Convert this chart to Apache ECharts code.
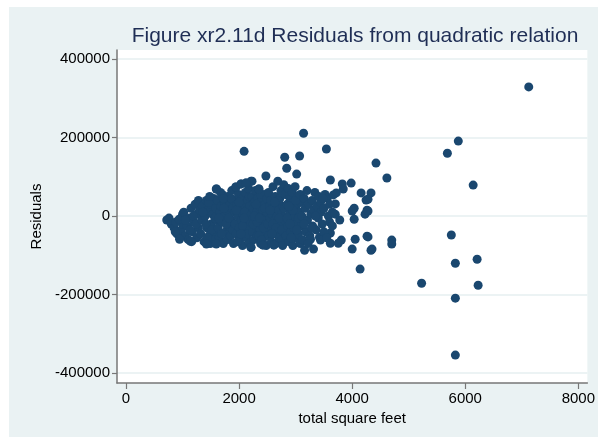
<!DOCTYPE html>
<html>
<head>
    <meta content="text/html; charset=UTF-8" http-equiv="Content-Type">
    <title>Residuals from quadratic relation</title>
    <style>
        html, body {
            height: 100%;
            width: 100%;
            margin: 0;
            padding: 0;
            background: #ffffff;
        }
        #main {
            position: absolute;
            left: 9px;
            top: 7px;
            width: 589px;
            height: 430px;
        }
    </style>
    <script src="https://cdn.jsdelivr.net/npm/echarts@6/dist/echarts.min.js"></script>
</head>
<body>
<div id="main"></div>

<script type="text/javascript">
    // tick labels
    var xTicks = [0, 2000, 4000, 6000, 8000];
    var yTicks = [-400000, -200000, 0, 200000, 400000];

    // total square feet (x) and residual (y)
    var sqft = [
        720, 760, 800, 850, 880, 900, 950, 980, 1000, 1000, 940, 870,
        1020, 1050, 1080, 1100, 1120, 1150, 1170, 1200, 1220, 1250, 1260, 1280, 1300, 1050, 1130, 1190, 1240, 1280, 1160,
        1320, 1340, 1350, 1380, 1400, 1420, 1430, 1450, 1470, 1490, 1500, 1510, 1530, 1550, 1560, 1580, 1590, 1600, 1600, 1360, 1410, 1460, 1520, 1570, 1480, 1440,
        1620, 1630, 1650, 1660, 1680, 1700, 1700, 1720, 1740, 1750, 1760, 1780, 1790, 1800, 1810, 1830, 1840, 1850, 1860, 1870, 1880, 1890, 1900, 1900, 1640, 1690, 1730, 1770, 1820, 1860, 1670, 1720,
        1920, 1930, 1940, 1950, 1960, 1980, 1990, 2000, 2010, 2020, 2035, 2040, 2050, 2060, 2070, 2080, 2090, 2100, 2110, 2120, 2130, 2140, 2150, 2160, 2170, 2180, 2190, 2200, 2210, 2210, 1950, 2000, 2060, 2100, 2150, 2180, 2030, 2090, 2170, 1970,
        2220, 2230, 2240, 2250, 2260, 2270, 2280, 2290, 2300, 2310, 2320, 2330, 2340, 2350, 2360, 2370, 2380, 2390, 2400, 2410, 2420, 2430, 2440, 2450, 2460, 2470, 2480, 2490, 2474, 2250, 2300, 2350, 2400, 2450, 2320, 2380, 2270, 2430, 2490, 2360,
        2510, 2520, 2530, 2540, 2550, 2560, 2570, 2580, 2590, 2600, 2610, 2620, 2630, 2640, 2650, 2660, 2670, 2684, 2690, 2700, 2710, 2720, 2730, 2740, 2750, 2760, 2770, 2780, 2790, 2800, 2550, 2600, 2650, 2700, 2750, 2580, 2630, 2710, 2770, 2800, 2614, 2421,
        2807, 2820, 2830, 2842, 2850, 2860, 2870, 2880, 2890, 2900, 2910, 2920, 2930, 2940, 2950, 2960, 2970, 2980, 2990, 3000, 3010, 3018, 3030, 3040, 3050, 3060, 3070, 3080, 3090, 3100, 2850, 2900, 2950, 3000, 3050, 2880, 2920, 3020, 3080,
        3110, 3120, 3140, 3150, 3158, 3170, 3180, 3200, 3210, 3230, 3250, 3263, 3270, 3290, 3300, 3316, 3320, 3340, 3360, 3380, 3400, 3421, 3439, 3440, 3450, 3150, 3220, 3280, 3350, 3410,
        3470, 3500, 3520, 3544, 3561, 3579, 3600, 3614, 3614, 3614, 3650, 3667, 3702, 3719, 3754, 3780, 3807, 3825, 3842, 3500, 3550, 3650, 3700, 3600, 3480,
        3982, 4035, 4000, 4035, 4053, 4000, 4158, 4263, 4228, 4246, 4263, 4333, 4351, 4280, 4280, 4280, 4333, 4421, 4614, 4700, 4700, 4140,
        2088, 2228, 2351, 1596, 1947, 2035, 2123, 947, 1421, 1596, 2210, 1140,
        7123, 5877, 5684, 6140, 5754, 5825, 6210, 5228, 6228, 5825, 5825
    ];
    var residual = [
        -10000, -5000, -20000, -30000, -15000, -45000, -55000, -35000, 5000, -20000, -8000, -40000,
        10000, -50000, -25000, -60000, -5000, 20000, -40000, -15000, 30000, -55000, 5000, -30000, 15000, -10000, -35000, 0, -20000, 40000, -65000,
        -45000, -10000, 25000, -65000, 0, 40000, -30000, 15000, -50000, -70000, 30000, -20000, 5000, 45000, -40000, -60000, 20000, 69000, -10000, 10000, -20000, 35000, -35000, -5000, 50000, -55000,
        40000, -30000, -55000, 10000, 25000, -15000, 55000, -70000, 0, 35000, -40000, 15000, -60000, 50000, -25000, 5000, 30000, -50000, -10000, 65000, 20000, -35000, -70000, 40000, -5000, -45000, 20000, -20000, -5000, 45000, 60000, 45000,
        10000, -20000, 74000, -45000, 30000, 0, 55000, -30000, -60000, 20000, 82000, -10000, 45000, -75000, 5000, -40000, 30000, -20000, 60000, 84000, -55000, 15000, -5000, 40000, -30000, -70000, 25000, -15000, 89000, -80000, 15000, 35000, -25000, 10000, -45000, 50000, -45000, -5000, 70000, -65000,
        5000, 50000, -40000, 20000, -60000, 35000, -10000, 65000, -25000, 10000, -50000, 45000, -5000, 69000, 25000, -35000, -70000, 0, 40000, -20000, 15000, -55000, 55000, -5000, 30000, -40000, -75000, 10000, 102000, -20000, 30000, -50000, -60000, 20000, -15000, 55000, 0, -30000, 45000, -5000,
        -20000, 60000, -50000, 25000, -5000, 40000, -65000, 5000, -30000, 75000, 20000, -45000, -10000, 50000, -70000, 30000, 0, 89000, -35000, 15000, -55000, 45000, -20000, 65000, 5000, -60000, 25000, -40000, 80000, -10000, 15000, -20000, -30000, 40000, -35000, -45000, 35000, -5000, -75000, 20000, -74000, -74000,
        150000, 55000, -50000, 122000, 30000, -25000, 70000, -65000, 5000, 45000, -40000, 20000, -10000, 60000, -75000, 35000, -30000, 0, 75000, -55000, 25000, 107000, -15000, 50000, -45000, 10000, 153000, -70000, 35000, -25000, -5000, -20000, 15000, 40000, -5000, 25000, -55000, -35000, 55000,
        0, -60000, 211000, 45000, -87000, 20000, -40000, 65000, -10000, 30000, -50000, -59000, 5000, 40000, -25000, -84000, 15000, 60000, -35000, 25000, -5000, -54000, -61000, 35000, 10000, -20000, -70000, -30000, 0, 50000,
        -20000, 20000, 55000, 171000, 46000, 0, -15000, -43000, -69000, 92000, 10000, 54000, 31000, 59000, -69000, -10000, -61000, 82000, 69000, -40000, -55000, -25000, 5000, 30000, 45000,
        84000, 20000, 13000, -8000, -59000, -84000, 59000, 15000, 5000, 41000, -51000, 59000, -84000, 43000, 13000, -53000, -87000, 135000, 97000, -61000, -71000, -135000,
        165000, 89000, 69000, 69000, 74000, 82000, 84000, -59000, -71000, -71000, -79000, -64000,
        329000, 191000, 160000, 79000, -48000, -120000, -110000, -171000, -176000, -209000, -354000
    ];

    var fontName = "'Liberation Sans', Arial, sans-serif";

    function createScatterChart() {
        var myChart = echarts.init(document.getElementById('main'));
        var points = [];
        for (var i = 0; i < sqft.length; i++) {
            points.push([sqft[i], residual[i]]);
        }
        var option = {
            backgroundColor: '#EAF2F3',
            animation: false,
            graphic: [{
                type: 'text',
                x: 346,
                y: 29,
                style: {
                    text: 'Figure xr2.11d Residuals from quadratic relation',
                    fill: '#1F2E55',
                    font: '21px ' + fontName,
                    textAlign: 'center',
                    textVerticalAlign: 'middle'
                }
            }],
            grid: {
                left: 108,
                top: 43,
                width: 474,
                height: 333,
                show: true,
                backgroundColor: '#ffffff',
                borderWidth: 0
            },
            xAxis: {
                type: 'value',
                min: -160,
                max: 8160,
                name: 'total square feet',
                nameLocation: 'middle',
                nameGap: 25,
                nameTextStyle: {
                    color: '#000',
                    fontSize: 15,
                    fontFamily: fontName
                },
                axisLine: {
                    show: true,
                    onZero: false,
                    lineStyle: {color: '#777777', width: 1.5}
                },
                axisTick: {
                    show: true,
                    length: 6,
                    customValues: xTicks,
                    lineStyle: {color: '#777777', width: 1.2}
                },
                axisLabel: {
                    customValues: xTicks,
                    margin: 8,
                    color: '#000',
                    fontSize: 15,
                    fontFamily: fontName,
                    formatter: function (v) { return String(v); }
                },
                splitLine: {show: false}
            },
            yAxis: {
                type: 'value',
                min: -425000,
                max: 423000,
                name: 'Residuals',
                nameLocation: 'middle',
                nameGap: 68,
                nameTextStyle: {
                    color: '#000',
                    fontSize: 15,
                    fontFamily: fontName
                },
                axisLine: {
                    show: true,
                    onZero: false,
                    lineStyle: {color: '#777777', width: 1.5}
                },
                axisTick: {
                    show: true,
                    length: 5,
                    customValues: yTicks,
                    lineStyle: {color: '#777777', width: 1.2}
                },
                axisLabel: {
                    customValues: yTicks,
                    margin: 7,
                    color: '#000',
                    fontSize: 15,
                    fontFamily: fontName,
                    formatter: function (v) { return String(v); }
                },
                splitLine: {
                    show: true,
                    lineStyle: {color: '#E6EFF1', width: 1.5}
                }
            },
            series: [{
                type: 'scatter',
                data: points,
                symbolSize: 9,
                itemStyle: {
                    color: '#1A476F',
                    opacity: 1
                }
            }]
        };
        myChart.setOption(option);
    }
    createScatterChart();
</script>
</body>
</html>
